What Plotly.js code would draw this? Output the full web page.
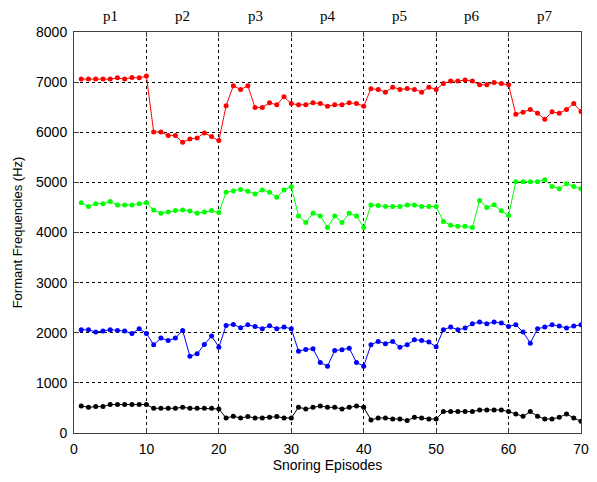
<!DOCTYPE html>
<html><head><meta charset="utf-8">
<script src="https://cdn.plot.ly/plotly-3.0.1.min.js"></script>
<style>html,body{margin:0;padding:0;background:#fff}#chart{width:597px;height:482px}</style>
</head><body><div id="chart"></div>
<script>
const episodes = Array.from({length: 70}, (_, i) => i + 1);
const patientLabels = ['p1','p2','p3','p4','p5','p6','p7'];
const patientCenters = [5, 15, 25, 35, 45, 55, 65];

const formantRed = [7060,7060,7060,7060,7060,7085,7060,7090,7085,7120,
  6007,6007,5933,5933,5800,5867,5887,5987,5913,5833,
  6527,6927,6853,6927,6493,6493,6587,6547,6707,6573,
  6547,6547,6587,6573,6520,6547,6547,6587,6573,6520,
  6867,6853,6800,6900,6853,6873,6853,6800,6900,6853,
  6973,7020,7020,7040,7020,6947,6947,6993,6973,6947,
  6360,6400,6453,6380,6260,6407,6380,6453,6573,6413];
const formantGreen = [4596,4517,4576,4576,4616,4550,4550,4550,4576,4596,
  4451,4384,4411,4437,4451,4431,4384,4411,4437,4398,
  4801,4828,4860,4825,4768,4848,4801,4702,4848,4914,
  4331,4199,4384,4331,4100,4331,4199,4384,4331,4100,
  4550,4537,4517,4517,4517,4550,4550,4517,4517,4517,
  4220,4147,4127,4127,4100,4640,4500,4553,4433,4340,
  5013,5013,5013,5013,5053,4920,4873,4973,4920,4873];
const formantBlue = [2060,2060,2013,2033,2060,2047,2033,1987,2080,1987,
  1760,1893,1847,1893,2047,1533,1580,1767,1933,1713,
  2147,2167,2100,2160,2127,2080,2140,2080,2113,2080,
  1633,1667,1680,1407,1333,1647,1660,1693,1407,1333,
  1760,1827,1780,1827,1713,1760,1860,1847,1813,1720,
  2060,2113,2060,2093,2180,2213,2180,2213,2193,2127,
  2160,2013,1793,2080,2113,2160,2133,2093,2133,2160];
const formantBlack = [540,513,527,527,567,567,567,567,567,567,
  493,493,493,493,513,493,493,493,493,480,
  300,333,300,327,300,300,313,327,300,300,
  513,480,513,540,513,513,480,513,540,513,
  260,300,300,280,280,247,313,300,280,280,
  427,427,427,427,427,460,460,460,460,427,
  380,333,427,333,280,280,313,380,300,233];

const seriesColors = ['#ff0000','#00ff00','#0000ff','#000000'];
const seriesData = [formantRed, formantGreen, formantBlue, formantBlack];

const traces = seriesData.map((ys, i) => ({
  x: episodes, y: ys, type: 'scatter', mode: 'lines+markers',
  line: {color: seriesColors[i], width: 1},
  marker: {color: seriesColors[i], size: 5},
  showlegend: false, hoverinfo: 'x+y'
}));

const sans = 'Liberation Sans, Arial, sans-serif';
const axisCommon = {
  showline: true, linecolor: '#404040', linewidth: 1, mirror: 'allticks',
  ticks: 'inside', ticklen: 5, tickcolor: '#404040',
  showgrid: true, gridcolor: '#000000', gridwidth: 1, griddash: '3px,3px',
  zeroline: false,
  tickfont: {family: sans, size: 14, color: '#000'}
};

const layout = {
  width: 597, height: 482,
  margin: {l: 74, r: 16, t: 32, b: 49},
  paper_bgcolor: '#fff', plot_bgcolor: '#fff',
  xaxis: Object.assign({}, axisCommon, {
    range: [0, 70], tick0: 0, dtick: 10, ticklabelstandoff: 3,
    title: {text: 'Snoring Episodes', standoff: 4,
      font: {family: sans, size: 14, color: '#000'}}
  }),
  yaxis: Object.assign({}, axisCommon, {
    range: [0, 8000], tick0: 0, dtick: 1000, ticklabelstandoff: 3,
    title: {text: 'Formant Frequencies (Hz)', standoff: 10,
      font: {family: sans, size: 13, color: '#000'}}
  }),
  annotations: patientLabels.map((t, i) => ({
    text: t, x: patientCenters[i], xref: 'x', y: 1, yref: 'paper',
    yanchor: 'bottom', yshift: 6, showarrow: false,
    font: {family: 'Liberation Serif, Times New Roman, serif', size: 15, color: '#000'}
  }))
};

Plotly.newPlot('chart', traces, layout, {displayModeBar: false, staticPlot: true});
</script>
</body></html>
